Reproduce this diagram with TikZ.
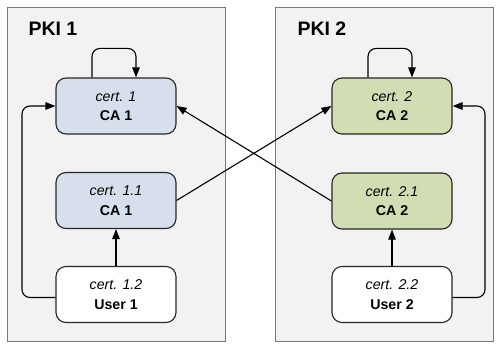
\documentclass[tikz,border=0pt]{standalone}
\usepackage{fontspec}
\setmainfont{Liberation Sans}
\usetikzlibrary{arrows.meta,positioning}

\definecolor{panelgray}{RGB}{242,242,242}
\definecolor{panelline}{RGB}{120,120,120}
\definecolor{cablue}{RGB}{215,223,236}
\definecolor{cagreen}{RGB}{209,221,178}

\tikzset{
	panel/.style={draw=panelline, fill=panelgray, line width=0.9pt},
	certbox/.style={draw=black!85, line width=1.1pt, rounded corners=10pt,
		minimum width=120pt, minimum height=56pt, align=center, inner sep=0pt,
		font=\fontsize{14.2}{19.5}\selectfont},
	link/.style={line width=1.1pt, -{Triangle[length=10pt,width=7.5pt]}},
	title/.style={font=\fontsize{19.5}{22}\selectfont\bfseries, anchor=west}
}

\begin{document}
\begin{tikzpicture}[x=1pt, y=-1pt]

		\useasboundingbox (0,0) rectangle (500,350);

		% the two PKI panels
		\draw[panel] (7,7) rectangle (225,341);
		\draw[panel] (275,7) rectangle (493,341);
		\node[title] (pki1) at (25,29) {PKI 1};
		\node[title] (pki2) at (294,29) {PKI 2};

		% certificates, PKI 1
		\node[certbox, fill=cablue] (ca1) at (116,106) {\textit{cert. 1}\\\textbf{CA 1}};
		\node[certbox, fill=cablue] (ca11) at (116,200.5) {\textit{cert. 1.1}\\\textbf{CA 1}};
		\node[certbox, fill=white] (user1) at (116,294.5) {\textit{cert. 1.2}\\\textbf{User 1}};

		% certificates, PKI 2
		\node[certbox, fill=cagreen] (ca2) at (392,106) {\textit{cert. 2}\\\textbf{CA 2}};
		\node[certbox, fill=cagreen] (ca21) at (392,201) {\textit{cert. 2.1}\\\textbf{CA 2}};
		\node[certbox, fill=white] (user2) at (392,294.5) {\textit{cert. 2.2}\\\textbf{User 2}};

		% self-signed roots
		\draw[link, rounded corners=8pt] ([xshift=-24pt]ca1.north) -- ++(0,-29) -| ([xshift=20pt]ca1.north);
		\draw[link, rounded corners=8pt] ([xshift=-24pt]ca2.north) -- ++(0,-29) -| ([xshift=20pt]ca2.north);

		% chains inside each PKI
		\draw[link] (user1) -- (ca11);
		\draw[link] (user2) -- (ca21);
		\draw[link, rounded corners=8pt] ([yshift=-3pt]user1.west) -| (22,160) |- (ca1.west);
		\draw[link, rounded corners=8pt] ([yshift=-3pt]user2.east) -| (485,160) |- (ca2.east);

		% cross certificates
		\draw[link] (ca11.east) -- (ca2.west);
		\draw[link] (ca21.west) -- (ca1.east);

	\end{tikzpicture}
\end{document}
